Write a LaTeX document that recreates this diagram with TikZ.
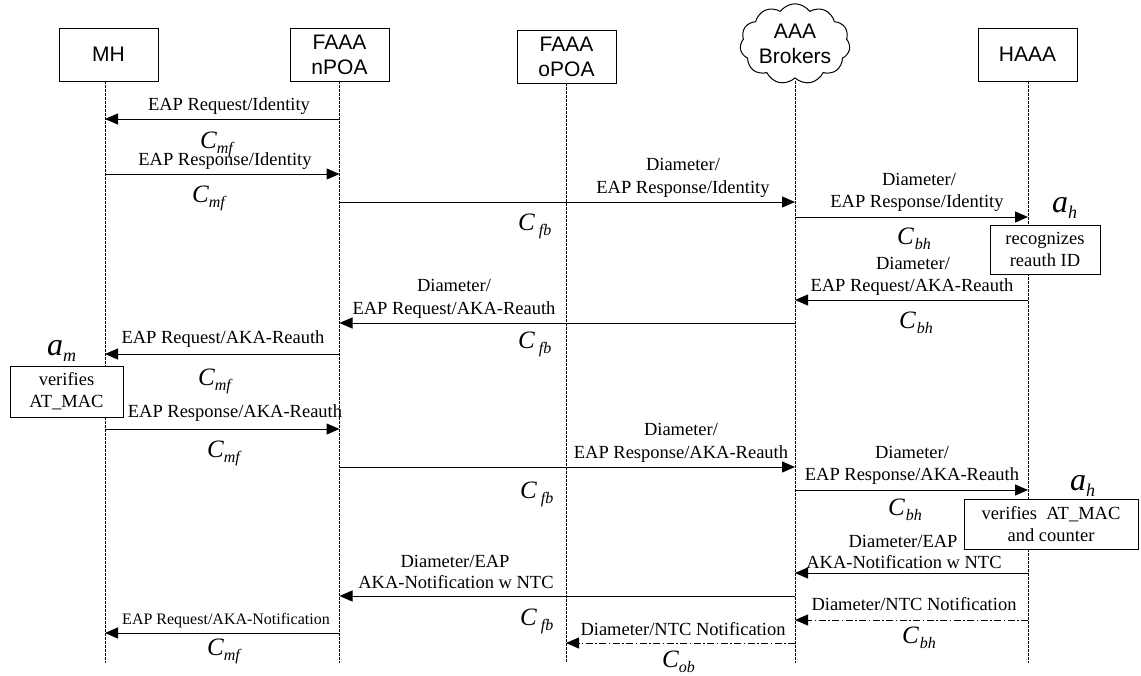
\documentclass[tikz,border=0pt]{standalone}
\usepackage{fontspec}
\setmainfont{Liberation Serif}
\newfontfamily\headfont{Liberation Sans}
\usetikzlibrary{arrows.meta,shapes.symbols}

% cost variable C_{xy} and action variable a_x
\newcommand\cvar[2][0pt]{{\fontsize{25}{25}\selectfont\itshape C}\kern#1\raisebox{-5pt}{\fontsize{16}{16}\selectfont\itshape #2}}
\newcommand\avar[1]{{\fontsize{32}{32}\selectfont\itshape a}\raisebox{-6pt}{\fontsize{18}{18}\selectfont\itshape #1}}

\tikzset{
  actor/.style={draw, line width=1pt, minimum width=99pt, minimum height=53pt,
    inner sep=0pt, align=center, font=\headfont\fontsize{21}{25}\selectfont},
  lifeline/.style={line width=0.8pt, dash pattern=on 2.5pt off 1.5pt},
  msg/.style={line width=1pt, -{Triangle[length=13pt,width=11pt]}},
  notify/.style={msg, dash pattern=on 7pt off 2.5pt on 1.5pt off 2.5pt},
  lbl/.style={anchor=base, inner sep=0pt, font=\fontsize{18.5}{22}\selectfont},
  slbl/.style={anchor=base, inner sep=0pt, font=\fontsize{16}{19}\selectfont},
  cost/.style={anchor=base west, inner sep=0pt},
  action/.style={draw, fill=white, line width=1pt, inner sep=0pt, align=center,
    font=\fontsize{18.5}{22}\selectfont},
}

\begin{document}
\begin{tikzpicture}[x=1pt,y=-1pt]
\useasboundingbox (0,0) rectangle (1141,675);

% participants
\node[actor] (mh) at (108.5,54.5) {MH};
\node[actor] (np) at (339.5,54.5) {FAAA\\nPOA};
\node[actor] (op) at (566.5,56.5) {FAAA\\oPOA};
\node[cloud, draw, line width=1pt, cloud puffs=11, cloud puff arc=110, aspect=1.5,
      minimum width=110pt, minimum height=72pt, inner sep=0pt, align=center,
      font=\headfont\fontsize{21}{25}\selectfont] (br) at (795,44) {AAA\\Brokers};
\node[actor] (ha) at (1027.5,54.5) {HAAA};

% lifeline tops and the common bottom line
\coordinate (mhL) at (105,81);
\coordinate (npL) at (339.5,81);
\coordinate (opL) at (566,83);
\coordinate (brL) at (795,81);
\coordinate (haL) at (1028,81);
\coordinate (bottom) at (0,663);
\foreach \p in {mhL,npL,opL,brL,haL}
  \draw[lifeline] (\p) -- (\p |- bottom);

% message rows
\coordinate (r1) at (0,119);
\coordinate (r2) at (0,174);
\coordinate (r3) at (0,202);
\coordinate (r4) at (0,217);
\coordinate (r5) at (0,300);
\coordinate (r6) at (0,323);
\coordinate (r7) at (0,354);
\coordinate (r8) at (0,429);
\coordinate (r9) at (0,467);
\coordinate (r10) at (0,490);
\coordinate (r11) at (0,573);
\coordinate (r12) at (0,596);
\coordinate (r13) at (0,620);
\coordinate (r14) at (0,633);
\coordinate (r15) at (0,643);

% messages
\draw[msg] (npL |- r1) -- (mhL |- r1);
\draw[msg] (mhL |- r2) -- (npL |- r2);
\draw[msg] (npL |- r3) -- (brL |- r3);
\draw[msg] (brL |- r4) -- (haL |- r4);
\draw[msg] (haL |- r5) -- (brL |- r5);
\draw[msg] (brL |- r6) -- (npL |- r6);
\draw[msg] (npL |- r7) -- (mhL |- r7);
\draw[msg] (mhL |- r8) -- (npL |- r8);
\draw[msg] (npL |- r9) -- (brL |- r9);
\draw[msg] (brL |- r10) -- (haL |- r10);
\draw[msg] (haL |- r11) -- (brL |- r11);
\draw[msg] (brL |- r12) -- (npL |- r12);
\draw[notify] (haL |- r13) -- (brL |- r13);
\draw[msg] (npL |- r14) -- (mhL |- r14);
\draw[notify] (brL |- r15) -- (opL |- r15);

% local actions
\node[action, minimum width=110pt, minimum height=49pt] (recog) at (1045,249.5) {recognizes\\reauth ID};
\node[action, minimum width=113pt, minimum height=51pt] (vmac) at (66.5,391.5) {verifies\\AT\_MAC};
\node[action, minimum width=174pt, minimum height=50pt] (vcnt) at (1051,524) {verifies~ AT\_MAC\\and counter};

% message labels
\node[lbl] (t1) at (229,110) {EAP Request/Identity};
\node[lbl] (t2) at (225,165) {EAP Response/Identity};
\node[lbl] (t3a) at (683,170) {Diameter/};
\node[lbl] (t3b) at (683,193) {EAP Response/Identity};
\node[lbl] (t4a) at (919,185) {Diameter/};
\node[lbl] (t4b) at (917,207) {EAP Response/Identity};
\node[lbl] (t5a) at (913,269) {Diameter/};
\node[lbl] (t5b) at (912,291) {EAP Request/AKA-Reauth};
\node[lbl] (t6a) at (454,291) {Diameter/};
\node[lbl] (t6b) at (454,314) {EAP Request/AKA-Reauth};
\node[lbl] (t7) at (223,343) {EAP Request/AKA-Reauth};
\node[lbl] (t8) at (235,417) {EAP Response/AKA-Reauth};
\node[lbl] (t9a) at (681,435) {Diameter/};
\node[lbl] (t9b) at (681,458) {EAP Response/AKA-Reauth};
\node[lbl] (t10a) at (912,458) {Diameter/};
\node[lbl] (t10b) at (912,480) {EAP Response/AKA-Reauth};
\node[lbl] (t11a) at (903,547) {Diameter/EAP};
\node[lbl] (t11b) at (904,568) {AKA-Notification w NTC};
\node[lbl] (t12a) at (455,567) {Diameter/EAP};
\node[lbl] (t12b) at (456,588) {AKA-Notification w NTC};
\node[lbl] (t13) at (914,610) {Diameter/NTC Notification};
\node[slbl] (t14) at (226,624) {EAP Request/AKA-Notification};
\node[lbl] (t15) at (683,635) {Diameter/NTC Notification};

% costs
\node[cost] (c1) at (200,148) {\cvar{mf}};
\node[cost] (c2) at (192,202) {\cvar{mf}};
\node[cost] (c3) at (518,230) {\cvar[4pt]{fb}};
\node[cost] (c4) at (897,244) {\cvar[1pt]{bh}};
\node[cost] (c5) at (899,328) {\cvar[1pt]{bh}};
\node[cost] (c6) at (518,348) {\cvar[4pt]{fb}};
\node[cost] (c7) at (198,385) {\cvar{mf}};
\node[cost] (c8) at (207,457) {\cvar{mf}};
\node[cost] (c9) at (520,498) {\cvar[4pt]{fb}};
\node[cost] (c10) at (888,515) {\cvar[1pt]{bh}};
\node[cost] (c11) at (520,625) {\cvar[4pt]{fb}};
\node[cost] (c12) at (902,643) {\cvar[1pt]{bh}};
\node[cost] (c13) at (207,655) {\cvar{mf}};
\node[cost] (c14) at (662,667) {\cvar{ob}};

% action variables
\node[cost] (ah1) at (1052,212) {\avar{h}};
\node[cost] (ah2) at (1070,490) {\avar{h}};
\node[cost] (am) at (47,355) {\avar{m}};
\end{tikzpicture}
\end{document}
